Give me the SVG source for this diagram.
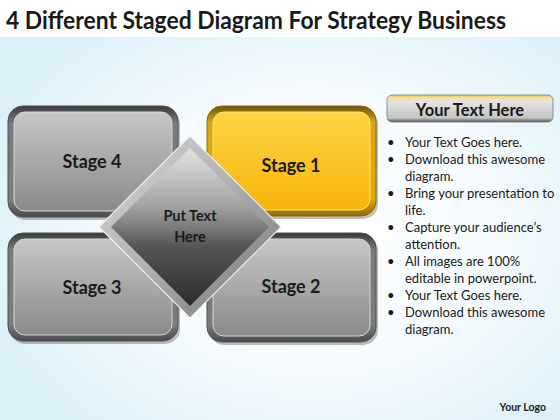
<svg xmlns="http://www.w3.org/2000/svg" width="560" height="420" viewBox="0 0 560 420">
<defs>
<radialGradient id="bg" cx="0.56" cy="0.55" r="0.62">
<stop offset="0" stop-color="#ffffff"/>
<stop offset="0.55" stop-color="#f4fafd"/>
<stop offset="1" stop-color="#dcf0f9"/>
</radialGradient>
<linearGradient id="greyRing" x1="0" y1="0" x2="0" y2="1">
<stop offset="0" stop-color="#3a3a3a"/>
<stop offset="0.15" stop-color="#7a7a7a"/>
<stop offset="0.85" stop-color="#7c7c7c"/>
<stop offset="1" stop-color="#4a4a4a"/>
</linearGradient>
<linearGradient id="greyFace" x1="0" y1="0" x2="0" y2="1">
<stop offset="0" stop-color="#c6c6c6"/>
<stop offset="1" stop-color="#8a8a8a"/>
</linearGradient>
<linearGradient id="goldRing" x1="0" y1="0" x2="0" y2="1">
<stop offset="0" stop-color="#6e5410"/>
<stop offset="0.15" stop-color="#d9a712"/>
<stop offset="0.85" stop-color="#e0a80a"/>
<stop offset="1" stop-color="#8c6a08"/>
</linearGradient>
<linearGradient id="goldFace" x1="0" y1="0" x2="0" y2="1">
<stop offset="0" stop-color="#fdd445"/>
<stop offset="1" stop-color="#f5b60a"/>
</linearGradient>
<linearGradient id="dOuter" x1="0" y1="0" x2="1" y2="1">
<stop offset="0" stop-color="#d8d8d8"/>
<stop offset="0.5" stop-color="#b0b0b0"/>
<stop offset="1" stop-color="#707070"/>
</linearGradient>
<linearGradient id="dInner" x1="0" y1="0" x2="0" y2="1">
<stop offset="0" stop-color="#e2e2e2"/>
<stop offset="0.38" stop-color="#a0a0a0"/>
<stop offset="0.62" stop-color="#565656"/>
<stop offset="1" stop-color="#2c2c2c"/>
</linearGradient>
<linearGradient id="hdr" x1="0" y1="0" x2="0" y2="1">
<stop offset="0" stop-color="#f5c842"/>
<stop offset="0.12" stop-color="#f0e2b0"/>
<stop offset="0.25" stop-color="#e4e4e4"/>
<stop offset="0.85" stop-color="#c4c4c4"/>
<stop offset="1" stop-color="#555555"/>
</linearGradient>
<style>
.t{font-family:Lato,"Liberation Sans",sans-serif;fill:#1a1a1a}
.b{font-weight:bold}
.stage{font-size:18px;font-weight:bold;text-anchor:middle}
.bl{font-size:13px}
.shadow{fill:#000;opacity:0.25}
</style>
</defs>
<rect width="560" height="420" fill="url(#bg)"/>
<rect width="560" height="37" fill="#ffffff"/>
<text class="t b" x="6" y="29" font-size="24" textLength="500" lengthAdjust="spacingAndGlyphs">4 Different Staged Diagram For Strategy Business</text>

<g id="connectors"/>

<g id="stage4">
<rect class="shadow" x="10" y="109" width="170" height="111" rx="15"/>
<rect x="8" y="106" width="170" height="111" rx="15" fill="url(#greyRing)" stroke="#505050"/>
<rect x="14" y="112" width="158" height="99" rx="11" fill="url(#greyFace)" stroke="#d6d6d6"/>
<text class="t stage" x="92" y="168">Stage 4</text>
</g>
<g id="stage1">
<rect class="shadow" x="209" y="109" width="169" height="110" rx="15"/>
<rect x="207" y="106" width="169" height="110" rx="15" fill="url(#goldRing)" stroke="#8c6a08"/>
<rect x="213" y="112" width="157" height="98" rx="11" fill="url(#goldFace)" stroke="#ffe27a"/>
<text class="t stage" x="291" y="172">Stage 1</text>
</g>
<g id="stage3">
<rect class="shadow" x="10" y="236" width="170" height="108" rx="15"/>
<rect x="8" y="233" width="170" height="108" rx="15" fill="url(#greyRing)" stroke="#505050"/>
<rect x="14" y="239" width="158" height="96" rx="11" fill="url(#greyFace)" stroke="#d6d6d6"/>
<text class="t stage" x="92" y="294">Stage 3</text>
</g>
<g id="stage2">
<rect class="shadow" x="209" y="236" width="169" height="109" rx="15"/>
<rect x="207" y="233" width="169" height="109" rx="15" fill="url(#greyRing)" stroke="#505050"/>
<rect x="213" y="239" width="157" height="97" rx="11" fill="url(#greyFace)" stroke="#d6d6d6"/>
<text class="t stage" x="291" y="293">Stage 2</text>
</g>

<g id="center">
<polygon points="190,136 281,227 190,318 99,227" fill="url(#dOuter)" stroke="#f0f0f0" stroke-width="1.2"/>
<polygon points="190,148 269,227 190,306 111,227" fill="url(#dInner)"/>
<text class="t b" x="190" y="221" font-size="14.5" text-anchor="middle">Put Text</text>
<text class="t b" x="190" y="242" font-size="14.5" text-anchor="middle">Here</text>
</g>

<g id="header">
<rect x="387" y="95" width="166" height="27" rx="5" fill="url(#hdr)" stroke="#777" stroke-width="0.8"/>
<text class="t b" x="470" y="116" font-size="16.5" text-anchor="middle">Your Text Here</text>
</g>

<g id="bullets" class="t bl">
<text x="387" y="147">•</text><text x="405" y="147">Your Text Goes here.</text>
<text x="387" y="164">•</text><text x="405" y="164">Download this awesome</text>
<text x="405" y="181">diagram.</text>
<text x="387" y="198">•</text><text x="405" y="198">Bring your presentation to</text>
<text x="405" y="215">life.</text>
<text x="387" y="232">•</text><text x="405" y="232">Capture your audience’s</text>
<text x="405" y="249">attention.</text>
<text x="387" y="266">•</text><text x="405" y="266">All images are 100%</text>
<text x="405" y="283">editable in powerpoint.</text>
<text x="387" y="300">•</text><text x="405" y="300">Your Text Goes here.</text>
<text x="387" y="317">•</text><text x="405" y="317">Download this awesome</text>
<text x="405" y="334">diagram.</text>
</g>

<text class="t b" x="546" y="411" font-size="10.5" text-anchor="end">Your Logo</text>
</svg>
